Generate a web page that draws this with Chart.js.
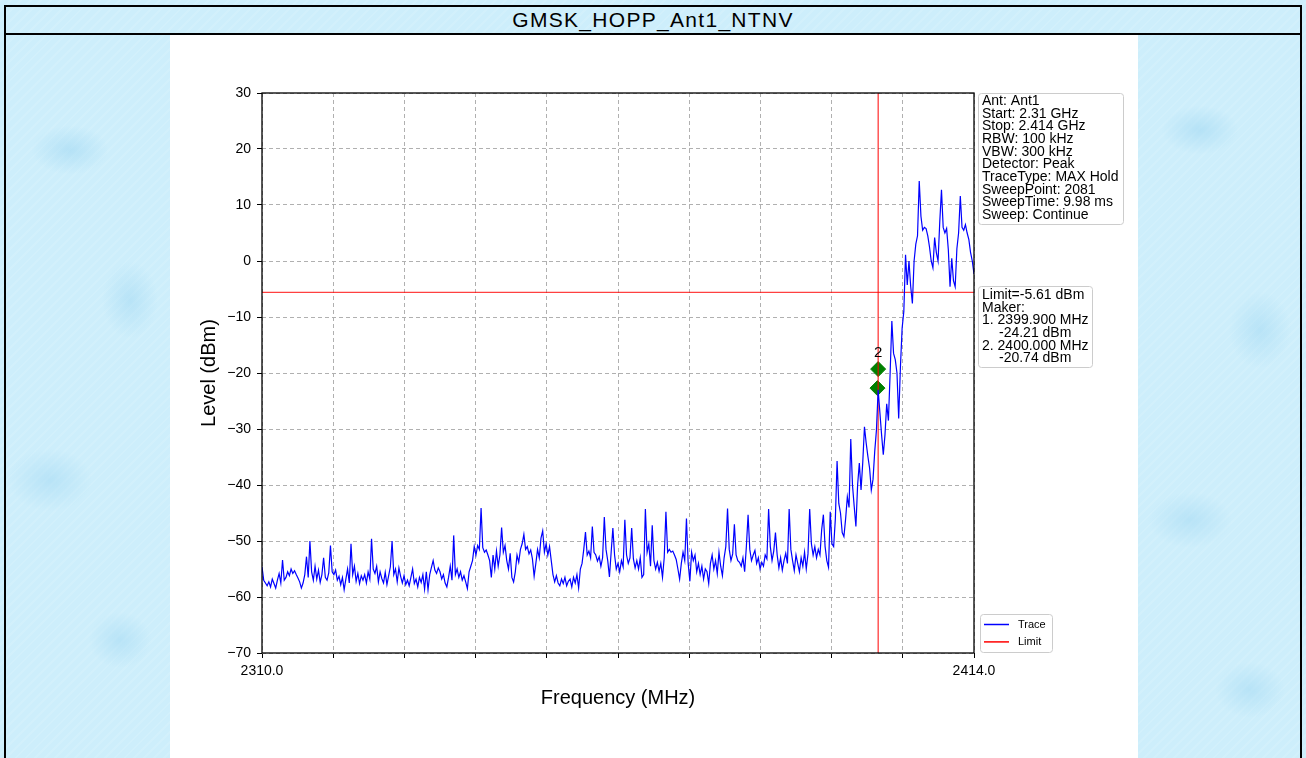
<!DOCTYPE html>
<html lang="en">
<head>
<meta charset="UTF-8" />
<title>GMSK_HOPP_Ant1_NTNV</title>
<style>
    html, body { margin: 0; padding: 0; }
    body {
        width: 1306px; height: 758px; overflow: hidden; position: relative;
        font-family: "Liberation Sans", Arial, sans-serif;
        background-color: #cdeefb;
        background-image:
            radial-gradient(ellipse 55px 35px at 70px 150px, rgba(150,210,240,0.45), transparent 70%),
            radial-gradient(ellipse 40px 55px at 130px 300px, rgba(150,210,240,0.40), transparent 70%),
            radial-gradient(ellipse 60px 45px at 50px 480px, rgba(150,210,240,0.40), transparent 70%),
            radial-gradient(ellipse 45px 40px at 120px 640px, rgba(150,210,240,0.40), transparent 70%),
            radial-gradient(ellipse 55px 35px at 1200px 130px, rgba(150,210,240,0.45), transparent 70%),
            radial-gradient(ellipse 45px 55px at 1260px 330px, rgba(150,210,240,0.40), transparent 70%),
            radial-gradient(ellipse 60px 40px at 1190px 520px, rgba(150,210,240,0.40), transparent 70%),
            radial-gradient(ellipse 50px 40px at 1250px 690px, rgba(150,210,240,0.40), transparent 70%),
            repeating-linear-gradient(135deg, rgba(255,255,255,0.10) 0 2px, transparent 2px 7px);
    }
    #frame { position: absolute; left: 4px; top: 5px; width: 1298px; height: 800px; border: 2px solid #000; box-sizing: border-box; }
    #title {
        position: absolute; left: 6px; top: 7px; width: 1294px; height: 26px;
        line-height: 26px; text-align: center; font-size: 21px; letter-spacing: 1.3px; color: #000;
        border-bottom: 2px solid #000;
    }
    #panel { position: absolute; left: 170px; top: 35px; width: 968px; height: 723px; background: #fff; }
    #panel canvas { display: block; }
</style>
<script src="https://cdn.jsdelivr.net/npm/chart.js"></script>
</head>
<body>
    <div id="frame"></div>
    <div id="title">GMSK_HOPP_Ant1_NTNV</div>
    <div id="panel"><canvas id="spectrum" width="968" height="723"></canvas></div>
<script>
    // sweep: 2310 .. 2414 MHz, one value every 0.25 MHz
    const sweepStart = 2310;
    const sweepStep = 0.25;
    const traceLevel = [
        -54.6, -57.0, -57.5, -58.0, -57.3, -58.2, -56.8, -57.6, -58.4, -57.0, -55.8, -57.5, -53.4, -57.0, -56.5, -55.5, -56.2, -55.0, -55.8, -55.3,
        -56.0, -56.6, -57.3, -58.4, -57.5, -56.0, -52.8, -56.5, -50.0, -55.5, -57.0, -54.5, -56.8, -55.2, -57.4, -56.0, -53.0, -56.5, -57.0, -55.7,
        -50.8, -55.5, -56.0, -55.2, -57.0, -56.3, -57.8, -56.5, -58.7, -56.8, -55.0, -57.5, -50.5, -56.0, -54.5, -57.2, -55.8, -57.6, -56.2, -57.0,
        -56.0, -57.5, -55.5, -56.8, -49.6, -55.0, -55.8, -54.5, -57.3, -55.5, -56.7, -57.5, -55.6, -57.8, -56.2, -54.6, -50.0, -56.0, -55.0, -57.3,
        -54.8, -56.3, -57.5, -56.2, -57.8, -57.0, -58.0, -56.5, -55.0, -57.6, -56.8, -58.2, -56.5, -57.4, -56.0, -58.6, -55.5, -58.7, -56.0, -54.7,
        -53.5, -55.2, -55.8, -54.8, -55.5, -56.8, -56.0, -57.5, -58.2, -56.5, -54.5, -57.0, -49.0, -56.0, -55.0, -56.5, -55.5, -57.0, -56.2, -57.3,
        -58.5, -55.5, -54.5, -53.5, -51.0, -52.5, -50.8, -51.5, -44.1, -51.2, -52.0, -51.6, -52.5, -53.5, -56.5, -52.5, -55.0, -51.8, -54.5, -52.5,
        -47.6, -52.0, -50.8, -53.5, -55.0, -52.2, -56.5, -57.3, -55.5, -52.5, -53.8, -51.5, -50.5, -48.8, -51.5, -51.0, -52.3, -51.6, -53.2, -56.3,
        -54.0, -51.5, -53.0, -49.5, -48.2, -52.0, -50.5, -52.5, -51.0, -53.5, -56.0, -57.3, -56.2, -57.5, -58.0, -56.8, -57.6, -56.5, -58.0, -57.2,
        -56.8, -58.2, -56.5, -57.5, -56.0, -58.4, -55.0, -54.0, -51.5, -48.4, -52.5, -51.8, -53.0, -47.4, -52.0, -52.5, -53.6, -52.8, -54.5, -53.0,
        -45.7, -51.5, -53.5, -56.4, -52.0, -47.7, -52.5, -55.0, -54.0, -55.5, -53.5, -54.6, -46.2, -52.5, -54.0, -53.0, -47.7, -53.2, -54.8, -53.5,
        -55.0, -53.0, -56.5, -56.0, -44.3, -52.0, -50.5, -54.5, -47.2, -53.5, -55.0, -53.8, -55.4, -54.0, -56.5, -53.0, -44.8, -52.0, -51.5, -52.0,
        -51.8, -52.5, -53.3, -55.0, -56.8, -54.0, -52.0, -53.5, -46.0, -54.0, -57.2, -52.0, -53.5, -52.5, -55.5, -54.0, -56.0, -54.5, -56.8, -55.0,
        -55.5, -57.6, -54.0, -52.5, -55.0, -53.5, -55.8, -52.0, -54.5, -56.2, -53.0, -51.0, -44.2, -51.5, -53.5, -52.3, -47.0, -52.5, -53.5, -53.8,
        -54.5, -53.0, -55.5, -51.0, -45.3, -51.5, -53.5, -52.5, -51.7, -54.0, -53.0, -55.0, -53.8, -54.5, -52.5, -53.2, -44.3, -51.0, -53.5, -51.8,
        -48.5, -52.5, -54.8, -53.0, -55.2, -53.5, -52.2, -54.0, -44.3, -51.5, -53.5, -55.3, -52.5, -54.0, -55.5, -53.0, -54.5, -52.0, -55.0, -52.3,
        -44.3, -50.5, -52.5, -51.0, -53.0, -51.5, -52.5, -48.0, -45.3, -51.0, -53.5, -54.7, -44.8, -50.5, -51.0, -46.0, -35.7, -43.3, -45.0, -48.5,
        -49.2, -46.0, -42.1, -44.0, -31.8, -40.0, -43.8, -47.4, -40.0, -36.1, -40.9, -36.0, -29.6, -32.5, -34.9, -37.0, -40.9, -39.0, -34.0, -30.2,
        -23.0, -27.0, -31.0, -34.6, -31.0, -25.5, -28.5, -20.0, -10.7, -16.5, -17.6, -20.0, -28.1, -19.0, -12.0, -9.0, 1.1, -4.3, 0.0, -4.5,
        -7.6, 0.0, 3.0, 4.5, 14.3, 8.0, 5.5, 6.0, 5.8, 4.5, 2.5, 0.0, -1.2, 4.2, 1.5, 0.0, 7.0, 12.7, 6.0, 5.0,
        5.8, 2.0, -4.6, 0.5, -3.5, -4.6, 2.2, 5.0, 11.6, 6.0, 5.5, 6.5, 5.0, 3.8, 1.5, 0.0, -2.3
    ];
    const limitLevel = -5.61;
    const markerNames = ['1', '2'];
    const markerFreq = [2399.9, 2400.0];
    const markerLevel = [-22.7, -19.3];
    const xTickValues = [2310, 2320.4, 2330.8, 2341.2, 2351.6, 2362, 2372.4, 2382.8, 2393.2, 2403.6, 2414];
    const yMin = -70, yMax = 30, yStep = 10;

    const infoLines = ['Ant: Ant1', 'Start: 2.31 GHz', 'Stop: 2.414 GHz', 'RBW: 100 kHz', 'VBW: 300 kHz',
        'Detector: Peak', 'TraceType: MAX Hold', 'SweepPoint: 2081', 'SweepTime: 9.98 ms', 'Sweep: Continue'];
    const limitLines = [['Limit=-5.61 dBm', 0], ['Maker:', 0], ['1. 2399.900 MHz', 0], ['-24.21 dBm', 1],
        ['2. 2400.000 MHz', 0], ['-20.74 dBm', 1]];
    const legendItems = [['Trace', '#0000ff'], ['Limit', '#ff0000']];

    const FONT = '"Liberation Sans", Arial, sans-serif';
    const xMin = xTickValues[0], xMax = xTickValues[xTickValues.length - 1];

    const tracePoints = traceLevel.map((v, i) => ({ x: sweepStart + i * sweepStep, y: v }));
    const markerPoints = markerFreq.map((f, i) => ({ x: f, y: markerLevel[i] }));

    function drawBox(ctx, x, y, w, h) {
        ctx.save();
        ctx.beginPath();
        ctx.roundRect(x + 0.5, y + 0.5, w, h, 3);
        ctx.fillStyle = 'rgba(255,255,255,0.8)';
        ctx.fill();
        ctx.strokeStyle = '#cccccc';
        ctx.lineWidth = 1;
        ctx.stroke();
        ctx.restore();
    }

    const overlay = {
        id: 'overlay',
        afterDraw(chart) {
            const ctx = chart.ctx;
            const a = chart.chartArea;
            ctx.save();
            // axes frame
            ctx.strokeStyle = '#000';
            ctx.lineWidth = 1.3;
            ctx.strokeRect(a.left, a.top, a.right - a.left, a.bottom - a.top);

            // marker label
            const mk = chart.getDatasetMeta(3).data;
            ctx.fillStyle = '#000';
            ctx.font = '15px ' + FONT;
            ctx.textAlign = 'center';
            ctx.textBaseline = 'middle';
            ctx.fillText(markerNames[1], mk[1].x, mk[1].y - 16);

            // info box
            ctx.textAlign = 'left';
            ctx.font = '14px ' + FONT;
            let bx = a.right + 4, by = a.top;
            drawBox(ctx, bx, by, 145, 131);
            ctx.fillStyle = '#000';
            infoLines.forEach((t, i) => ctx.fillText(t, bx + 4, by + 8 + i * 12.7));

            // limit / marker box
            by = a.top + 193;
            drawBox(ctx, bx, by, 114, 81);
            ctx.fillStyle = '#000';
            limitLines.forEach((l, i) => ctx.fillText(l[0], bx + 4 + l[1] * 17, by + 9 + i * 12.7));

            // legend
            bx = a.right + 6; by = a.bottom - 39;
            drawBox(ctx, bx, by, 72, 38);
            ctx.font = '11px ' + FONT;
            legendItems.forEach((it, i) => {
                const ly = by + 10.5 + i * 17.4;
                ctx.strokeStyle = it[1];
                ctx.lineWidth = 1.5;
                ctx.beginPath();
                ctx.moveTo(bx + 4, ly);
                ctx.lineTo(bx + 29, ly);
                ctx.stroke();
                ctx.fillStyle = '#000';
                ctx.fillText(it[0], bx + 38, ly);
            });
            ctx.restore();
        }
    };

    new Chart(document.getElementById('spectrum').getContext('2d'), {
        type: 'line',
        data: {
            datasets: [
                { label: 'Trace', data: tracePoints, borderColor: '#0000ff', borderWidth: 1.2, pointRadius: 0, tension: 0 },
                { label: 'Limit', data: [{ x: xMin, y: limitLevel }, { x: xMax, y: limitLevel }],
                  borderColor: 'rgba(255,0,0,0.75)', borderWidth: 1.4, pointRadius: 0 },
                { label: 'Marker line', data: [{ x: markerFreq[1], y: yMin }, { x: markerFreq[1], y: yMax }],
                  borderColor: '#ff0000', borderWidth: 1, pointRadius: 0 },
                { label: 'Markers', data: markerPoints, showLine: false, pointStyle: 'rectRot', pointRadius: 7.5,
                  backgroundColor: '#008000', borderColor: '#008000', borderWidth: 1 }
            ]
        },
        options: {
            responsive: false,
            animation: false,
            layout: { padding: { left: 23, top: 58, right: 164, bottom: 44 } },
            plugins: { legend: { display: false }, tooltip: { enabled: false } },
            scales: {
                x: {
                    type: 'linear', min: xMin, max: xMax,
                    afterBuildTicks: (axis) => { axis.ticks = xTickValues.map(v => ({ value: v })); },
                    afterFit: (scale) => { scale.height = 61; },
                    ticks: {
                        autoSkip: false, maxRotation: 0, padding: 5, color: '#000',
                        font: { family: FONT, size: 14 },
                        callback: (v, i, t) => (i === 0 || i === t.length - 1) ? Number(v).toFixed(1) : ''
                    },
                    grid: { color: '#b0b0b0', lineWidth: 1, tickLength: 5, tickColor: '#000', tickBorderDash: [] },
                    border: { display: false, dash: [4, 3] },
                    title: { display: true, text: 'Frequency (MHz)', color: '#000', font: { family: FONT, size: 20 } }
                },
                y: {
                    min: yMin, max: yMax,
                    afterFit: (scale) => { scale.width = 69; },
                    ticks: {
                        stepSize: yStep, padding: 6, color: '#000',
                        font: { family: FONT, size: 14 },
                        callback: (v) => String(v).replace('-', '\u2212')
                    },
                    grid: { color: '#b0b0b0', lineWidth: 1, tickLength: 5, tickColor: '#000', tickBorderDash: [] },
                    border: { display: false, dash: [4, 3] },
                    title: { display: true, text: 'Level (dBm)', color: '#000', font: { family: FONT, size: 20 } }
                }
            }
        },
        plugins: [overlay]
    });
</script>
</body>
</html>
